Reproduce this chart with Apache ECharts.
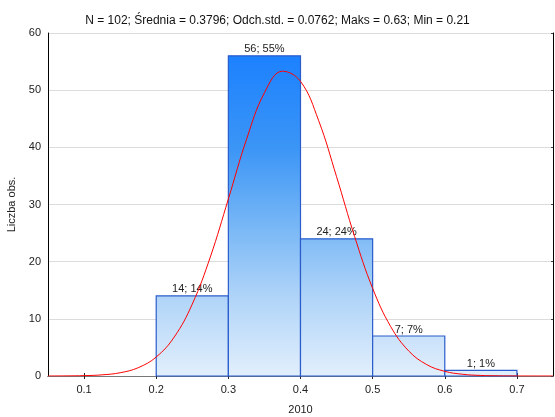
<!DOCTYPE html>
<html>
<head>
<meta charset="utf-8">
<script src="https://cdn.jsdelivr.net/npm/echarts@6/dist/echarts.min.js"></script>
<style>html,body{margin:0;padding:0;background:#fff;}#c{width:555px;height:417px;}</style>
</head>
<body>
<div id="c"></div>
<script>
var titleText = 'N = 102; Średnia = 0.3796; Odch.std. = 0.0762; Maks = 0.63; Min = 0.21';
var binStart = [0.2, 0.3, 0.4, 0.5, 0.6];
var binEnd = [0.3, 0.4, 0.5, 0.6, 0.7];
var counts = [14, 56, 24, 7, 1];
var barLabels = ['14; 14%', '56; 55%', '24; 24%', '7; 7%', '1; 1%'];
var xTicks = [0.1, 0.2, 0.3, 0.4, 0.5, 0.6, 0.7];
var curveX = [0.05, 0.075, 0.1, 0.125, 0.15, 0.175, 0.2, 0.225, 0.25, 0.275, 0.3, 0.325, 0.35, 0.375, 0.4, 0.425, 0.45, 0.475, 0.5, 0.525, 0.55, 0.575, 0.6, 0.625, 0.65, 0.675, 0.7, 0.725, 0.75];
var curveY = [0.005, 0.018, 0.064, 0.20, 0.57, 1.45, 3.32, 6.82, 12.58, 20.82, 30.96, 41.33, 49.54, 53.32, 51.54, 44.73, 34.86, 24.40, 15.33, 8.65, 4.38, 1.99, 0.815, 0.299, 0.098, 0.029, 0.0077, 0.0018, 0.0004];
var xAxisName = '2010';
var yAxisName = 'Liczba obs.';

var chart = echarts.init(document.getElementById('c'), null, {renderer: 'canvas'});
var barData = binStart.map(function (s, i) { return [s, binEnd[i], counts[i], barLabels[i]]; });
var curveData = curveX.map(function (x, i) { return [x, curveY[i]]; });
var grad = new echarts.graphic.LinearGradient(0, 50, 0, 376, [
  {offset: 0, color: '#1a80ff'},
  {offset: 0.3, color: '#3b95f6'},
  {offset: 0.55, color: '#7ab8f6'},
  {offset: 0.75, color: '#aed3f8'},
  {offset: 1, color: '#e2effc'}
], true);
var font = 'Liberation Sans, Arial, sans-serif';

chart.setOption({
  animation: false,
  backgroundColor: '#fff',
  textStyle: {fontFamily: font},
  title: {text: titleText, left: 'center', top: 10, textStyle: {fontSize: 12, fontWeight: 'normal', color: '#111', fontFamily: font}},
  grid: {left: 48, right: 2, top: 33, bottom: 41, containLabel: false, outerBoundsMode: 'none'},
  xAxis: [{
    type: 'value', min: 0.05, max: 0.75, position: 'bottom',
    name: xAxisName, nameLocation: 'middle', nameGap: 28,
    nameTextStyle: {fontSize: 11, color: '#222', fontFamily: font},
    axisLine: {show: true, lineStyle: {color: '#1f2a44', width: 1}},
    axisTick: {show: true, inside: true, length: 3, customValues: xTicks, lineStyle: {color: '#222'}},
    axisLabel: {customValues: xTicks, fontSize: 11, color: '#222', margin: 8, fontFamily: font},
    splitLine: {show: false}
  }, {
    type: 'value', min: 0.05, max: 0.75, position: 'top',
    axisLine: {show: true, lineStyle: {color: '#777', width: 1}},
    axisTick: {show: true, inside: true, length: 3, customValues: xTicks, lineStyle: {color: '#222'}},
    axisLabel: {show: false},
    splitLine: {show: false}
  }],
  yAxis: [{
    type: 'value', min: 0, max: 60, interval: 10,
    name: yAxisName, nameLocation: 'middle', nameGap: 31,
    nameTextStyle: {fontSize: 11, color: '#222', fontFamily: font},
    axisLine: {show: true, lineStyle: {color: '#000', width: 1}},
    axisTick: {show: false},
    axisLabel: {fontSize: 11, color: '#222', margin: 7, fontFamily: font},
    splitLine: {show: true, lineStyle: {color: '#dcdcdc', width: 1}}
  }, {
    type: 'value', min: 0, max: 60, interval: 10, position: 'right',
    axisLine: {show: true, lineStyle: {color: '#000', width: 1}},
    axisTick: {show: true, inside: true, length: 2, lineStyle: {color: '#444'}},
    axisLabel: {show: false},
    splitLine: {show: false}
  }],
  series: [{
    type: 'custom',
    xAxisIndex: 0, yAxisIndex: 0,
    data: barData,
    renderItem: function (params, api) {
      var p0 = api.coord([api.value(0), api.value(2)]);
      var p1 = api.coord([api.value(1), 0]);
      var d = barData[params.dataIndex];
      return {
        type: 'group',
        children: [{
          type: 'rect',
          shape: {x: p0[0], y: p0[1], width: p1[0] - p0[0], height: p1[1] - p0[1]},
          style: {fill: grad, stroke: '#2a5ccc', lineWidth: 1.2}
        }, {
          type: 'text',
          style: {text: d[3], x: (p0[0] + p1[0]) / 2, y: p0[1] - 1, align: 'center', verticalAlign: 'bottom', fill: '#222', font: '11px ' + font}
        }]
      };
    },
    z: 2
  }, {
    type: 'line',
    xAxisIndex: 0, yAxisIndex: 0,
    data: curveData,
    smooth: 0.4,
    showSymbol: false,
    lineStyle: {color: '#ff0000', width: 1},
    z: 3
  }]
});
</script>
</body>
</html>
